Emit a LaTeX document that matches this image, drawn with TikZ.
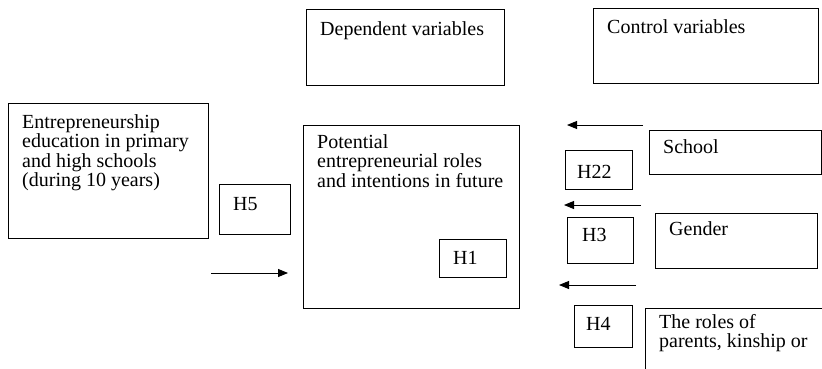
\documentclass[tikz,border=0pt]{standalone}
\usepackage{fontspec}
\setmainfont{Liberation Serif}
\usetikzlibrary{arrows.meta}
\tikzset{
  box/.style={draw=black, line width=0.9pt},
  lbl/.style={anchor=base west, inner sep=0pt, font=\fontsize{20}{19.5}\selectfont, align=left},
  arr/.style={draw=black, line width=0.9pt, -{Triangle[length=10pt,width=8pt]}}
}
\begin{document}
\begin{tikzpicture}[x=1pt,y=-1pt]
\useasboundingbox (0,0) rectangle (822,369);
% boxes
\draw[box] (8,103) rectangle (208,238);
\draw[box] (219,184) rectangle (290,234);
\draw[box] (306,9) rectangle (504,85);
\draw[box] (303,125) rectangle (519,308);
\draw[box] (439,239) rectangle (506,277);
\draw[box] (593,8) rectangle (818,83);
\draw[box] (649,130) rectangle (821,174);
\draw[box] (565,150) rectangle (632,189);
\draw[box] (655,213) rectangle (817,268);
\draw[box] (567,217) rectangle (633,263);
\draw[box] (574,305) rectangle (632,347);
\draw[box] (645,369) -- (645,308) -- (822,308);
% texts (multi-line nodes: base = last line)
\node[lbl] (tedu) at (22,186.5) {Entrepreneurship\\education in primary\\and high schools\\(during 10 years)};
\node[lbl] (th5) at (233,210) {H5};
\node[lbl] (tdep) at (320,36) {Dependent variables};
\node[lbl] (tpot) at (317,187) {Potential\\entrepreneurial roles\\and intentions in future};
\node[lbl] (th1) at (453,264) {H1};
\node[lbl] (tctl) at (607,34) {Control variables};
\node[lbl] (tsch) at (663,153) {School};
\node[lbl] (th22) at (577,178) {H22};
\node[lbl] (tgen) at (669,235) {Gender};
\node[lbl] (th3) at (582,241) {H3};
\node[lbl] (th4) at (586,330) {H4};
\node[lbl] (trol) at (659,347.5) {The roles of\\parents, kinship or};
% arrows
\coordinate (a1s) at (211,273); \coordinate (a1e) at (288,273);
\coordinate (a2s) at (643,125); \coordinate (a2e) at (567,125);
\coordinate (a3s) at (641,205); \coordinate (a3e) at (564,205);
\coordinate (a4s) at (636,285); \coordinate (a4e) at (559,285);
\draw[arr] (a1s) -- (a1e);
\draw[arr] (a2s) -- (a2e);
\draw[arr] (a3s) -- (a3e);
\draw[arr] (a4s) -- (a4e);
\end{tikzpicture}
\end{document}
